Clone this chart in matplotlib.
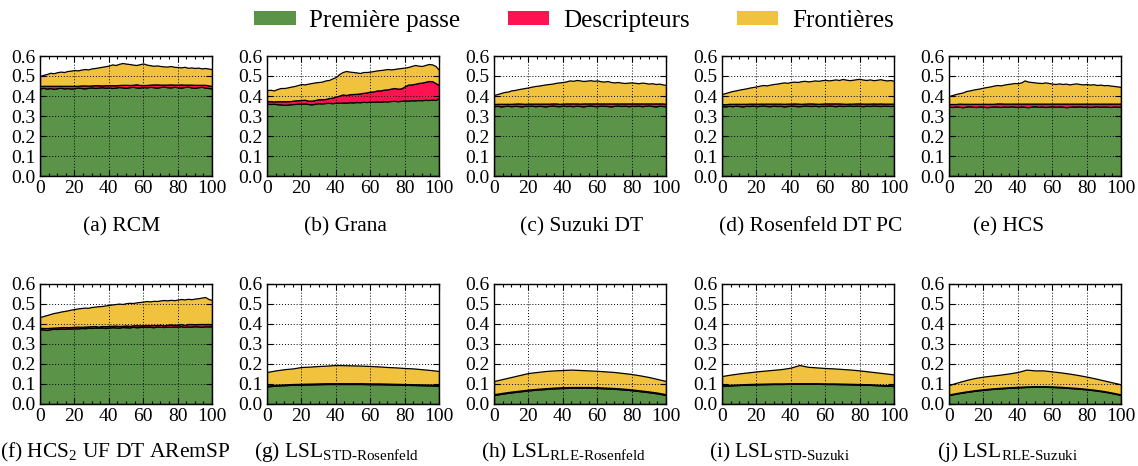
import numpy as np
import matplotlib
matplotlib.use("Agg")
import matplotlib.pyplot as plt
from matplotlib.patches import Patch
from matplotlib.ticker import MultipleLocator, FormatStrFormatter

plt.rcParams["font.family"] = ["Liberation Serif", "DejaVu Serif"]
plt.rcParams["mathtext.fontset"] = "custom"
plt.rcParams["mathtext.rm"] = "Liberation Serif"
plt.rcParams["mathtext.it"] = "Liberation Serif:italic"

# ---------------------------------------------------------------- data
stage_names = ["Première passe", "Descripteurs", "Frontières"]
stage_colors = ["#5b9448", "#fe1252", "#f0c23e"]

x_fine = np.arange(0, 101, 2)
x_coarse = np.arange(0, 101, 5)

# (a) RCM
rcm_first = [0.438, 0.441, 0.437, 0.440, 0.436, 0.439, 0.441, 0.438, 0.440, 0.437,
             0.439, 0.442, 0.440, 0.438, 0.441, 0.443, 0.440, 0.442, 0.444, 0.441,
             0.443, 0.440, 0.442, 0.445, 0.443, 0.441, 0.444, 0.446, 0.443, 0.442,
             0.445, 0.443, 0.446, 0.444, 0.442, 0.445, 0.447, 0.444, 0.443, 0.446,
             0.444, 0.442, 0.445, 0.447, 0.443, 0.441, 0.444, 0.446, 0.442, 0.440, 0.438]
rcm_desc = [0.012, 0.010, 0.014, 0.011, 0.015, 0.012, 0.010, 0.013, 0.011, 0.014,
            0.012, 0.009, 0.013, 0.015, 0.011, 0.010, 0.014, 0.012, 0.009, 0.013,
            0.011, 0.014, 0.012, 0.010, 0.013, 0.015, 0.011, 0.010, 0.016, 0.013,
            0.010, 0.012, 0.011, 0.014, 0.016, 0.012, 0.010, 0.013, 0.015, 0.011,
            0.013, 0.016, 0.012, 0.010, 0.014, 0.015, 0.012, 0.010, 0.014, 0.013, 0.012]
rcm_total = [0.500, 0.506, 0.510, 0.516, 0.514, 0.519, 0.522, 0.520, 0.525, 0.527,
             0.530, 0.528, 0.532, 0.535, 0.533, 0.538, 0.540, 0.543, 0.546, 0.549,
             0.552, 0.558, 0.555, 0.561, 0.565, 0.562, 0.560, 0.557, 0.555, 0.559,
             0.563, 0.557, 0.554, 0.551, 0.553, 0.550, 0.548, 0.547, 0.550, 0.546,
             0.545, 0.543, 0.546, 0.541, 0.543, 0.540, 0.542, 0.538, 0.540, 0.537, 0.535]

# (b) Grana
grana_first = [0.362, 0.360, 0.361, 0.359, 0.358, 0.356, 0.357, 0.359, 0.360, 0.362,
               0.361, 0.363, 0.360, 0.358, 0.362, 0.364, 0.363, 0.365, 0.366, 0.364,
               0.367, 0.366, 0.368, 0.367, 0.369, 0.368, 0.370, 0.369, 0.371, 0.370,
               0.372, 0.371, 0.373, 0.372, 0.374, 0.373, 0.375, 0.376, 0.374, 0.376,
               0.378, 0.377, 0.379, 0.378, 0.380, 0.379, 0.381, 0.380, 0.382, 0.380, 0.390]
grana_desc = [0.013, 0.014, 0.012, 0.015, 0.016, 0.018, 0.017, 0.016, 0.018, 0.017,
              0.019, 0.018, 0.017, 0.019, 0.018, 0.020, 0.021, 0.020, 0.024, 0.028,
              0.030, 0.036, 0.040, 0.038, 0.040, 0.042, 0.041, 0.044, 0.045, 0.048,
              0.050, 0.052, 0.055, 0.056, 0.058, 0.060, 0.062, 0.064, 0.063, 0.062,
              0.070, 0.080, 0.079, 0.083, 0.085, 0.088, 0.090, 0.095, 0.092, 0.085, 0.065]
grana_total = [0.430, 0.431, 0.428, 0.435, 0.440, 0.440, 0.443, 0.447, 0.450, 0.455,
               0.460, 0.458, 0.462, 0.465, 0.468, 0.470, 0.472, 0.478, 0.480, 0.488,
               0.495, 0.510, 0.520, 0.525, 0.522, 0.520, 0.518, 0.515, 0.520, 0.520,
               0.522, 0.525, 0.528, 0.530, 0.532, 0.535, 0.533, 0.535, 0.538, 0.540,
               0.542, 0.545, 0.550, 0.555, 0.552, 0.550, 0.555, 0.560, 0.558, 0.550, 0.530]

# (c) Suzuki DT
suzuki_first = [0.349, 0.351, 0.348, 0.350, 0.352, 0.349, 0.351, 0.350, 0.348, 0.351,
                0.350, 0.352, 0.349, 0.351, 0.350, 0.348, 0.351, 0.353, 0.350, 0.349,
                0.352, 0.350, 0.351, 0.349, 0.352, 0.350, 0.348, 0.351, 0.353, 0.350,
                0.349, 0.352, 0.351, 0.350, 0.348, 0.351, 0.353, 0.350, 0.352, 0.349,
                0.351, 0.350, 0.352, 0.349, 0.351, 0.353, 0.350, 0.348, 0.351, 0.350, 0.349]
suzuki_desc = [0.011, 0.010, 0.013, 0.011, 0.009, 0.012, 0.011, 0.013, 0.014, 0.010,
               0.012, 0.010, 0.013, 0.011, 0.012, 0.014, 0.011, 0.010, 0.013, 0.012,
               0.010, 0.013, 0.012, 0.014, 0.011, 0.012, 0.015, 0.012, 0.010, 0.013,
               0.014, 0.011, 0.012, 0.013, 0.015, 0.012, 0.010, 0.013, 0.011, 0.014,
               0.012, 0.013, 0.011, 0.014, 0.012, 0.010, 0.013, 0.015, 0.012, 0.013, 0.012]
suzuki_total = [0.405, 0.410, 0.415, 0.420, 0.422, 0.428, 0.430, 0.434, 0.437, 0.440,
                0.443, 0.447, 0.450, 0.452, 0.455, 0.458, 0.460, 0.462, 0.466, 0.468,
                0.470, 0.473, 0.478, 0.476, 0.480, 0.478, 0.475, 0.477, 0.479, 0.476,
                0.478, 0.474, 0.472, 0.475, 0.470, 0.468, 0.470, 0.467, 0.465, 0.467,
                0.468, 0.466, 0.464, 0.467, 0.465, 0.462, 0.464, 0.460, 0.462, 0.458, 0.455]

# (d) Rosenfeld DT PC
rosen_first = [0.350, 0.348, 0.351, 0.349, 0.352, 0.350, 0.348, 0.351, 0.350, 0.352,
               0.349, 0.351, 0.353, 0.350, 0.349, 0.352, 0.350, 0.351, 0.348, 0.350,
               0.352, 0.351, 0.349, 0.350, 0.353, 0.351, 0.350, 0.352, 0.349, 0.351,
               0.350, 0.353, 0.351, 0.349, 0.352, 0.350, 0.351, 0.353, 0.350, 0.352,
               0.351, 0.349, 0.352, 0.350, 0.353, 0.351, 0.350, 0.352, 0.351, 0.350, 0.352]
rosen_desc = [0.009, 0.011, 0.010, 0.012, 0.009, 0.011, 0.013, 0.010, 0.012, 0.010,
              0.012, 0.011, 0.009, 0.012, 0.013, 0.010, 0.012, 0.011, 0.013, 0.012,
              0.010, 0.012, 0.013, 0.011, 0.009, 0.012, 0.013, 0.010, 0.012, 0.011,
              0.013, 0.010, 0.012, 0.014, 0.011, 0.012, 0.010, 0.009, 0.012, 0.011,
              0.012, 0.013, 0.010, 0.012, 0.010, 0.011, 0.013, 0.010, 0.011, 0.012, 0.010]
rosen_total = [0.410, 0.415, 0.420, 0.425, 0.428, 0.432, 0.435, 0.438, 0.442, 0.445,
               0.448, 0.452, 0.455, 0.453, 0.457, 0.460, 0.462, 0.465, 0.468, 0.466,
               0.470, 0.472, 0.470, 0.474, 0.476, 0.473, 0.475, 0.478, 0.476, 0.479,
               0.481, 0.478, 0.480, 0.483, 0.480, 0.485, 0.482, 0.479, 0.481, 0.484,
               0.486, 0.482, 0.480, 0.483, 0.479, 0.481, 0.484, 0.480, 0.478, 0.480, 0.476]

# (e) HCS
hcs_first = [0.347, 0.345, 0.348, 0.346, 0.344, 0.347, 0.349, 0.346, 0.345, 0.348,
             0.347, 0.344, 0.346, 0.348, 0.347, 0.345, 0.348, 0.346, 0.349, 0.347,
             0.345, 0.348, 0.346, 0.344, 0.347, 0.349, 0.346, 0.348, 0.345, 0.347,
             0.349, 0.346, 0.348, 0.347, 0.344, 0.346, 0.348, 0.347, 0.349, 0.346,
             0.348, 0.345, 0.347, 0.349, 0.346, 0.348, 0.347, 0.345, 0.348, 0.346, 0.347]
hcs_desc = [0.013, 0.015, 0.012, 0.016, 0.017, 0.014, 0.012, 0.015, 0.016, 0.013,
            0.014, 0.017, 0.015, 0.013, 0.016, 0.018, 0.014, 0.016, 0.013, 0.015,
            0.017, 0.014, 0.016, 0.018, 0.015, 0.013, 0.016, 0.014, 0.017, 0.015,
            0.013, 0.016, 0.014, 0.015, 0.018, 0.016, 0.014, 0.015, 0.013, 0.016,
            0.014, 0.017, 0.015, 0.013, 0.016, 0.014, 0.015, 0.017, 0.014, 0.016, 0.015]
hcs_total = [0.400, 0.405, 0.410, 0.414, 0.418, 0.425, 0.428, 0.432, 0.435, 0.438,
             0.442, 0.445, 0.448, 0.452, 0.455, 0.453, 0.457, 0.460, 0.462, 0.465,
             0.464, 0.468, 0.478, 0.472, 0.470, 0.468, 0.466, 0.465, 0.468, 0.465,
             0.462, 0.460, 0.463, 0.460, 0.462, 0.458, 0.461, 0.463, 0.460, 0.458,
             0.460, 0.457, 0.459, 0.455, 0.457, 0.454, 0.455, 0.452, 0.450, 0.448, 0.445]

# (f) HCS2 UF DT ARemSP
hcs2_first = [0.375, 0.372, 0.370, 0.374, 0.376, 0.375, 0.377, 0.376, 0.378, 0.377,
              0.379, 0.378, 0.380, 0.379, 0.381, 0.380, 0.382, 0.381, 0.383, 0.380,
              0.382, 0.384, 0.383, 0.382, 0.385, 0.384, 0.383, 0.386, 0.384, 0.385,
              0.387, 0.385, 0.386, 0.384, 0.388, 0.386, 0.385, 0.387, 0.386, 0.388,
              0.387, 0.389, 0.386, 0.388, 0.387, 0.389, 0.388, 0.386, 0.389, 0.388, 0.389]
hcs2_desc = [0.006, 0.008, 0.010, 0.007, 0.006, 0.008, 0.007, 0.009, 0.006, 0.008,
             0.007, 0.009, 0.006, 0.008, 0.007, 0.009, 0.008, 0.006, 0.007, 0.009,
             0.008, 0.007, 0.009, 0.008, 0.006, 0.009, 0.008, 0.007, 0.010, 0.008,
             0.007, 0.009, 0.008, 0.011, 0.007, 0.010, 0.008, 0.009, 0.012, 0.008,
             0.010, 0.011, 0.009, 0.012, 0.013, 0.010, 0.012, 0.014, 0.011, 0.012, 0.010]
hcs2_total = [0.435, 0.440, 0.445, 0.450, 0.455, 0.458, 0.462, 0.465, 0.468, 0.472,
              0.475, 0.478, 0.480, 0.482, 0.481, 0.485, 0.487, 0.489, 0.490, 0.493,
              0.495, 0.498, 0.500, 0.502, 0.500, 0.504, 0.506, 0.505, 0.508, 0.510,
              0.512, 0.515, 0.513, 0.516, 0.515, 0.518, 0.520, 0.518, 0.521, 0.519,
              0.522, 0.525, 0.523, 0.526, 0.524, 0.527, 0.529, 0.532, 0.535, 0.525, 0.520]

# (g) LSL STD-Rosenfeld
lsl_sr_first = [0.088, 0.092, 0.094, 0.096, 0.097, 0.098, 0.099, 0.100, 0.100, 0.100,
                0.100, 0.100, 0.099, 0.099, 0.098, 0.097, 0.096, 0.095, 0.094, 0.093, 0.091]
lsl_sr_desc = [0.004] * 21
lsl_sr_total = [0.160, 0.168, 0.174, 0.178, 0.185, 0.187, 0.190, 0.192, 0.195, 0.194,
                0.193, 0.192, 0.190, 0.188, 0.185, 0.183, 0.180, 0.178, 0.174, 0.170, 0.165]

# (h) LSL RLE-Rosenfeld
lsl_rr_first = [0.045, 0.052, 0.058, 0.063, 0.068, 0.072, 0.075, 0.078, 0.080, 0.081,
                0.081, 0.081, 0.080, 0.078, 0.076, 0.073, 0.069, 0.064, 0.059, 0.053, 0.045]
lsl_rr_desc = [0.004] * 21
lsl_rr_total = [0.115, 0.125, 0.135, 0.145, 0.155, 0.160, 0.165, 0.168, 0.170, 0.172,
                0.170, 0.168, 0.166, 0.163, 0.160, 0.155, 0.150, 0.143, 0.135, 0.125, 0.115]

# (i) LSL STD-Suzuki
lsl_ss_first = [0.090, 0.093, 0.095, 0.097, 0.098, 0.099, 0.100, 0.100, 0.101, 0.101,
                0.101, 0.101, 0.100, 0.100, 0.099, 0.098, 0.097, 0.096, 0.094, 0.092, 0.090]
lsl_ss_desc = [0.003] * 21
lsl_ss_total = [0.140, 0.147, 0.153, 0.158, 0.163, 0.167, 0.171, 0.175, 0.182, 0.195,
                0.186, 0.183, 0.180, 0.178, 0.175, 0.172, 0.168, 0.163, 0.158, 0.153, 0.148]

# (j) LSL RLE-Suzuki
lsl_rs_first = [0.045, 0.053, 0.060, 0.066, 0.071, 0.075, 0.078, 0.081, 0.083, 0.085,
                0.086, 0.086, 0.085, 0.083, 0.080, 0.077, 0.073, 0.068, 0.062, 0.054, 0.045]
lsl_rs_desc = [0.003] * 21
lsl_rs_total = [0.095, 0.108, 0.120, 0.130, 0.137, 0.142, 0.147, 0.153, 0.160, 0.172,
                0.168, 0.168, 0.163, 0.158, 0.152, 0.145, 0.137, 0.128, 0.118, 0.108, 0.098]

captions = [
    "(a) RCM", "(b) Grana", "(c) Suzuki DT", "(d) Rosenfeld DT PC", "(e) HCS",
    r"(f) HCS$_2$ UF DT ARemSP",
    r"(g) LSL$_{\mathrm{STD\text{-}Rosenfeld}}$",
    r"(h) LSL$_{\mathrm{RLE\text{-}Rosenfeld}}$",
    r"(i) LSL$_{\mathrm{STD\text{-}Suzuki}}$",
    r"(j) LSL$_{\mathrm{RLE\text{-}Suzuki}}$",
]

panels = [
    (x_fine, rcm_first, rcm_desc, rcm_total),
    (x_fine, grana_first, grana_desc, grana_total),
    (x_fine, suzuki_first, suzuki_desc, suzuki_total),
    (x_fine, rosen_first, rosen_desc, rosen_total),
    (x_fine, hcs_first, hcs_desc, hcs_total),
    (x_fine, hcs2_first, hcs2_desc, hcs2_total),
    (x_coarse, lsl_sr_first, lsl_sr_desc, lsl_sr_total),
    (x_coarse, lsl_rr_first, lsl_rr_desc, lsl_rr_total),
    (x_coarse, lsl_ss_first, lsl_ss_desc, lsl_ss_total),
    (x_coarse, lsl_rs_first, lsl_rs_desc, lsl_rs_total),
]

# ---------------------------------------------------------------- layout
W, H = 1138, 466
fig = plt.figure(figsize=(W / 100, H / 100), dpi=100)

col_left = [40, 267, 494, 722, 949]
ax_w = 172
row_top = [56, 284]
ax_h = 120
caption_x = [122, 345, 582, 811, 1009, 115, 337, 564, 779, 1007]
caption_y = [227, 452]

for i, (x, first, desc, total) in enumerate(panels):
    r, c = divmod(i, 5)
    l = col_left[c]
    t = row_top[r]
    ax = fig.add_axes([l / W, 1 - (t + ax_h) / H, ax_w / W, ax_h / H])
    first = np.asarray(first)
    desc = np.asarray(desc)
    borders = np.asarray(total) - first - desc
    ax.stackplot(x, first, desc, borders, colors=stage_colors,
                 edgecolor="black", linewidth=0.9)
    ax.set_xlim(0, 100)
    ax.set_ylim(0, 0.6)
    ax.xaxis.set_major_locator(MultipleLocator(20))
    ax.xaxis.set_minor_locator(MultipleLocator(5))
    ax.yaxis.set_major_locator(MultipleLocator(0.1))
    ax.yaxis.set_major_formatter(FormatStrFormatter("%.1f"))
    ax.tick_params(which="both", direction="in", top=True, right=True,
                   labelsize=14, pad=3, color="black", width=0.8)
    ax.tick_params(which="major", length=4)
    ax.tick_params(which="minor", length=2)
    ax.set_axisbelow(False)
    ax.grid(True, which="major", linestyle=(0, (1, 2)), color="black", linewidth=0.7)
    for s in ax.spines.values():
        s.set_linewidth(1.0)
    fig.text(caption_x[i] / W, 1 - caption_y[r] / H, captions[i],
             ha="center", va="center", fontsize=15.5)

handles = [Patch(facecolor=col, edgecolor="none") for col in stage_colors]
fig.legend(handles, stage_names, loc="center", bbox_to_anchor=(574 / W, 1 - 21 / H),
           ncol=3, frameon=False, fontsize=18, handlelength=1.65, handleheight=0.45,
           handletextpad=0.55, columnspacing=1.9)

fig.savefig("out.png", dpi=100)
